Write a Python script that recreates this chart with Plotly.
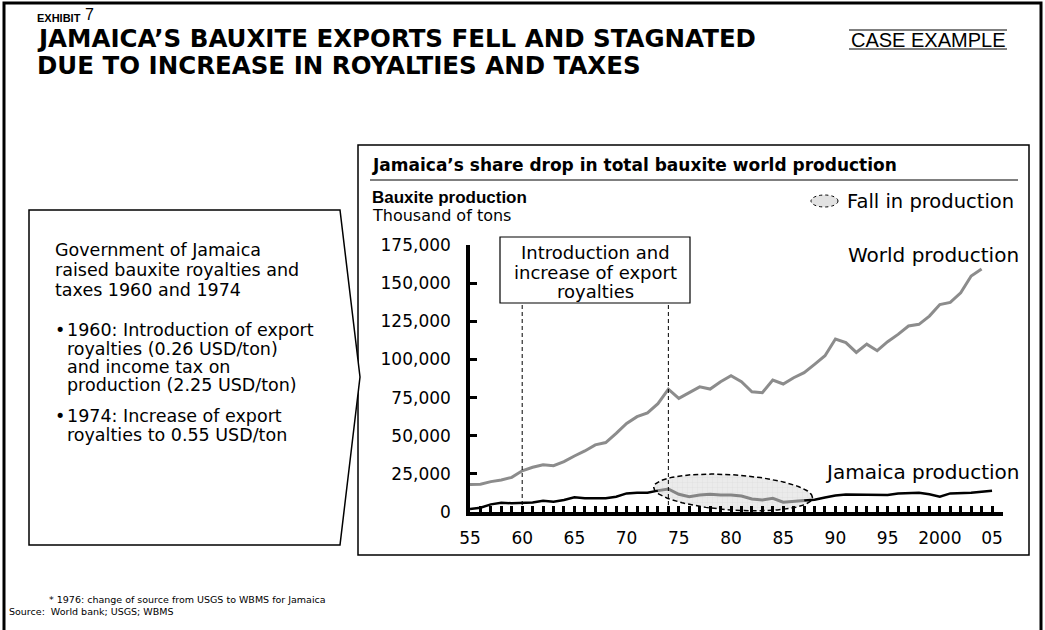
import numpy as np
import plotly.graph_objects as go

# ---- data (thousand tons) ----
years_world = list(range(1955, 2005))
world_production = [
    18000, 18200, 19900, 21000, 22700, 27000, 29300, 31000, 30400, 33000,
    36700, 40000, 44000, 45500, 51500, 58000, 62500, 65000, 71000, 80500,
    74500, 78000, 82000, 80600, 85400, 89300, 85400, 78800, 78200, 86500,
    83900, 88000, 91300, 96800, 102400, 113400, 111000, 104600, 110000, 105700,
    111600, 116400, 121900, 123000, 128400, 136000, 137400, 143700, 154700, 159200,
]
years_jamaica = list(range(1955, 2006))
jamaica_production = [
    2000, 2800, 5000, 6100, 5700, 6100, 6300, 7400, 6800, 7900,
    9600, 9000, 9000, 9000, 10000, 12200, 12600, 12600, 14000, 15100,
    11600, 10000, 11100, 11600, 11100, 11100, 10500, 8500, 7900, 9000,
    6400, 6800, 7500, 8000, 9500, 10800, 11500, 11400, 11600, 11300,
    11200, 12200, 12200, 12600, 11600, 10000, 12200, 12400, 12600, 13300, 14000,
]
label_years = [1955, 1960, 1965, 1970, 1975, 1980, 1985, 1990, 1995, 2000, 2005]
label_text = ["55", "60", "65", "70", "75", "80", "85", "90", "95", "2000", "05"]
royalty_years = [1960, 1974]
fall_start, fall_end = 1973, 1987

# ---- page geometry (pixels) ----
W, H = 1045, 630
PL, PR, PT, PB = 470, 1003, 245, 512


def fx(x):
    return (x - PL) / (PR - PL)


def fy(y):
    return (PB - y) / (PB - PT)


BODY = "DejaVu Sans"
HEAD = "Liberation Sans, Arial, sans-serif"
GREY = "#8c8c8c"

fig = go.Figure()

# highlighted fall in production (sheared ellipse around the dip)
t = np.linspace(0, 2 * np.pi, 181)
e_cx, e_cy, e_a, e_b, e_s = 1980.2, 12800, 7.6, 11600, 3300
ell_x = e_cx + e_a * np.cos(t)
ell_y = e_cy + e_b * np.sin(t) - e_s * np.cos(t)
fig.add_trace(go.Scatter(
    x=ell_x, y=ell_y, mode="lines", fill="toself",
    fillcolor="#ebebeb",
    fillpattern=dict(shape="+", bgcolor="#ebebeb", fgcolor="#c8c8c8", size=5, solidity=0.12),
    line=dict(color="black", width=1.5, dash="5px,3px"), hoverinfo="skip",
))

# world production
fig.add_trace(go.Scatter(
    x=years_world, y=world_production, mode="lines",
    line=dict(color=GREY, width=3), hoverinfo="x+y",
))

# Jamaica production: black before and after the fall, grey during it
jy = np.array(years_jamaica)
jv = np.array(jamaica_production)
before = jy <= fall_start
during = (jy >= fall_start) & (jy <= fall_end)
after = jy >= fall_end
for mask, col, wd in [(before, "black", 2.5), (after, "black", 2.5), (during, "#858585", 3)]:
    fig.add_trace(go.Scatter(
        x=jy[mask], y=jv[mask], mode="lines",
        line=dict(color=col, width=wd), hoverinfo="x+y",
    ))

shapes = []


def rect(x0, y0, x1, y1, width=1.5, color="black", fill=None):
    shapes.append(dict(type="rect", xref="paper", yref="paper",
                       x0=fx(x0), x1=fx(x1), y0=fy(y0), y1=fy(y1),
                       line=dict(color=color, width=width),
                       fillcolor=fill if fill else "rgba(0,0,0,0)", layer="below"))


def hline(x0, x1, y, width=1, color="black"):
    shapes.append(dict(type="line", xref="paper", yref="paper",
                       x0=fx(x0), x1=fx(x1), y0=fy(y), y1=fy(y),
                       line=dict(color=color, width=width)))


# outer frame and chart panel
rect(4, 3, 1041, 640, width=3)
rect(358, 145, 1029, 555, width=1.5)
hline(370, 1018, 180, width=1)

# callout arrow box on the left
pts = [(29, 210), (340, 210), (360, 377), (340, 545), (29, 545)]
path = "M " + " L ".join(f"{fx(a):.5f},{fy(b):.5f}" for a, b in pts) + " Z"
shapes.append(dict(type="path", xref="paper", yref="paper", path=path,
                   line=dict(color="black", width=1.5), fillcolor="white"))

# royalty box and dashed markers
rect(500, 237, 690, 303, width=1.2)
for yr in royalty_years:
    shapes.append(dict(type="line", xref="x", yref="paper", x0=yr, x1=yr,
                       y0=0, y1=fy(303), line=dict(color="black", width=1, dash="4px,3px")))

# legend symbol for the highlighted fall
shapes.append(dict(type="circle", xref="paper", yref="paper",
                   x0=fx(811), x1=fx(838), y0=fy(195), y1=fy(207),
                   line=dict(color="black", width=1, dash="dot"), fillcolor="#e2e2e2"))

# CASE EXAMPLE rules
hline(849, 1007, 30, width=1.2)
hline(849, 1007, 49, width=1.2)

ann = []


def text(x, y, s, size=17, family=BODY, bold=False, anchor="left", color="black"):
    ann.append(dict(xref="paper", yref="paper", x=fx(x), y=fy(y), text=s,
                    showarrow=False, xanchor=anchor, yanchor="middle",
                    font=dict(family=family, size=size, color=color,
                              weight="bold" if bold else "normal")))


text(35, 18, "EXHIBIT", size=11, family=HEAD, bold=True)
text(83, 15, "7", size=16, family=HEAD)
text(35, 38.5, "JAMAICA’S BAUXITE EXPORTS FELL AND STAGNATED", size=24.5, bold=True)
text(35, 65.5, "DUE TO INCREASE IN ROYALTIES AND TAXES", size=24.5, bold=True)
text(849, 40, "CASE EXAMPLE", size=20, family=HEAD)

text(370, 165, "Jamaica’s share drop in total bauxite world production", size=17, bold=True)
text(370, 197, "Bauxite production", size=17, family=HEAD, bold=True)
text(370, 215, "Thousand of tons", size=16)
text(845, 201, "Fall in production", size=19.5)

text(595, 252, "Introduction and", size=18, anchor="center")
text(595, 272, "increase of export", size=18, anchor="center")
text(595, 291, "royalties", size=18, anchor="center")

text(1021, 255, "World production", size=20, anchor="right")
text(1021, 472, "Jamaica production", size=20, anchor="right")

callout = [
    (53, 250, "Government of Jamaica"),
    (53, 270, "raised bauxite royalties and"),
    (53, 290, "taxes 1960 and 1974"),
    (53, 330, "•"),
    (65, 330, "1960: Introduction of export"),
    (65, 349, "royalties (0.26 USD/ton)"),
    (65, 367, "and income tax on"),
    (65, 385, "production (2.25 USD/ton)"),
    (53, 416, "•"),
    (65, 416, "1974: Increase of export"),
    (65, 435, "royalties to 0.55 USD/ton"),
]
for x, y, s in callout:
    text(x, y, s, size=17.5)

text(47, 599, "* 1976: change of source from USGS to WBMS for Jamaica", size=9.5)
text(7, 611, "Source:  World bank; USGS; WBMS", size=9.5)

all_years = list(range(1955, 2007))
fig.update_layout(
    width=W, height=H,
    margin=dict(l=PL, r=W - PR, t=PT, b=H - PB, pad=0),
    paper_bgcolor="white", plot_bgcolor="white",
    showlegend=False,
    shapes=shapes, annotations=ann,
    xaxis=dict(
        range=[1955, 2006.05],
        tickvals=all_years,
        ticktext=[label_text[label_years.index(y)] if y in label_years else "" for y in all_years],
        showline=True, linecolor="black", linewidth=3.5,
        ticks="inside", ticklen=6, tickwidth=2.5, tickcolor="black",
        showgrid=False, zeroline=False,
        tickfont=dict(family=BODY, size=17, color="black"),
        ticklabelstandoff=8,
    ),
    yaxis=dict(
        range=[0, 175000], tick0=0, dtick=25000, tickformat=",",
        showline=True, linecolor="black", linewidth=3.5,
        ticks="inside", ticklen=7, tickwidth=3, tickcolor="black",
        showgrid=False, zeroline=False,
        tickfont=dict(family=BODY, size=17, color="black"),
        ticklabelstandoff=12,
    ),
)

fig.write_html("out.html")
